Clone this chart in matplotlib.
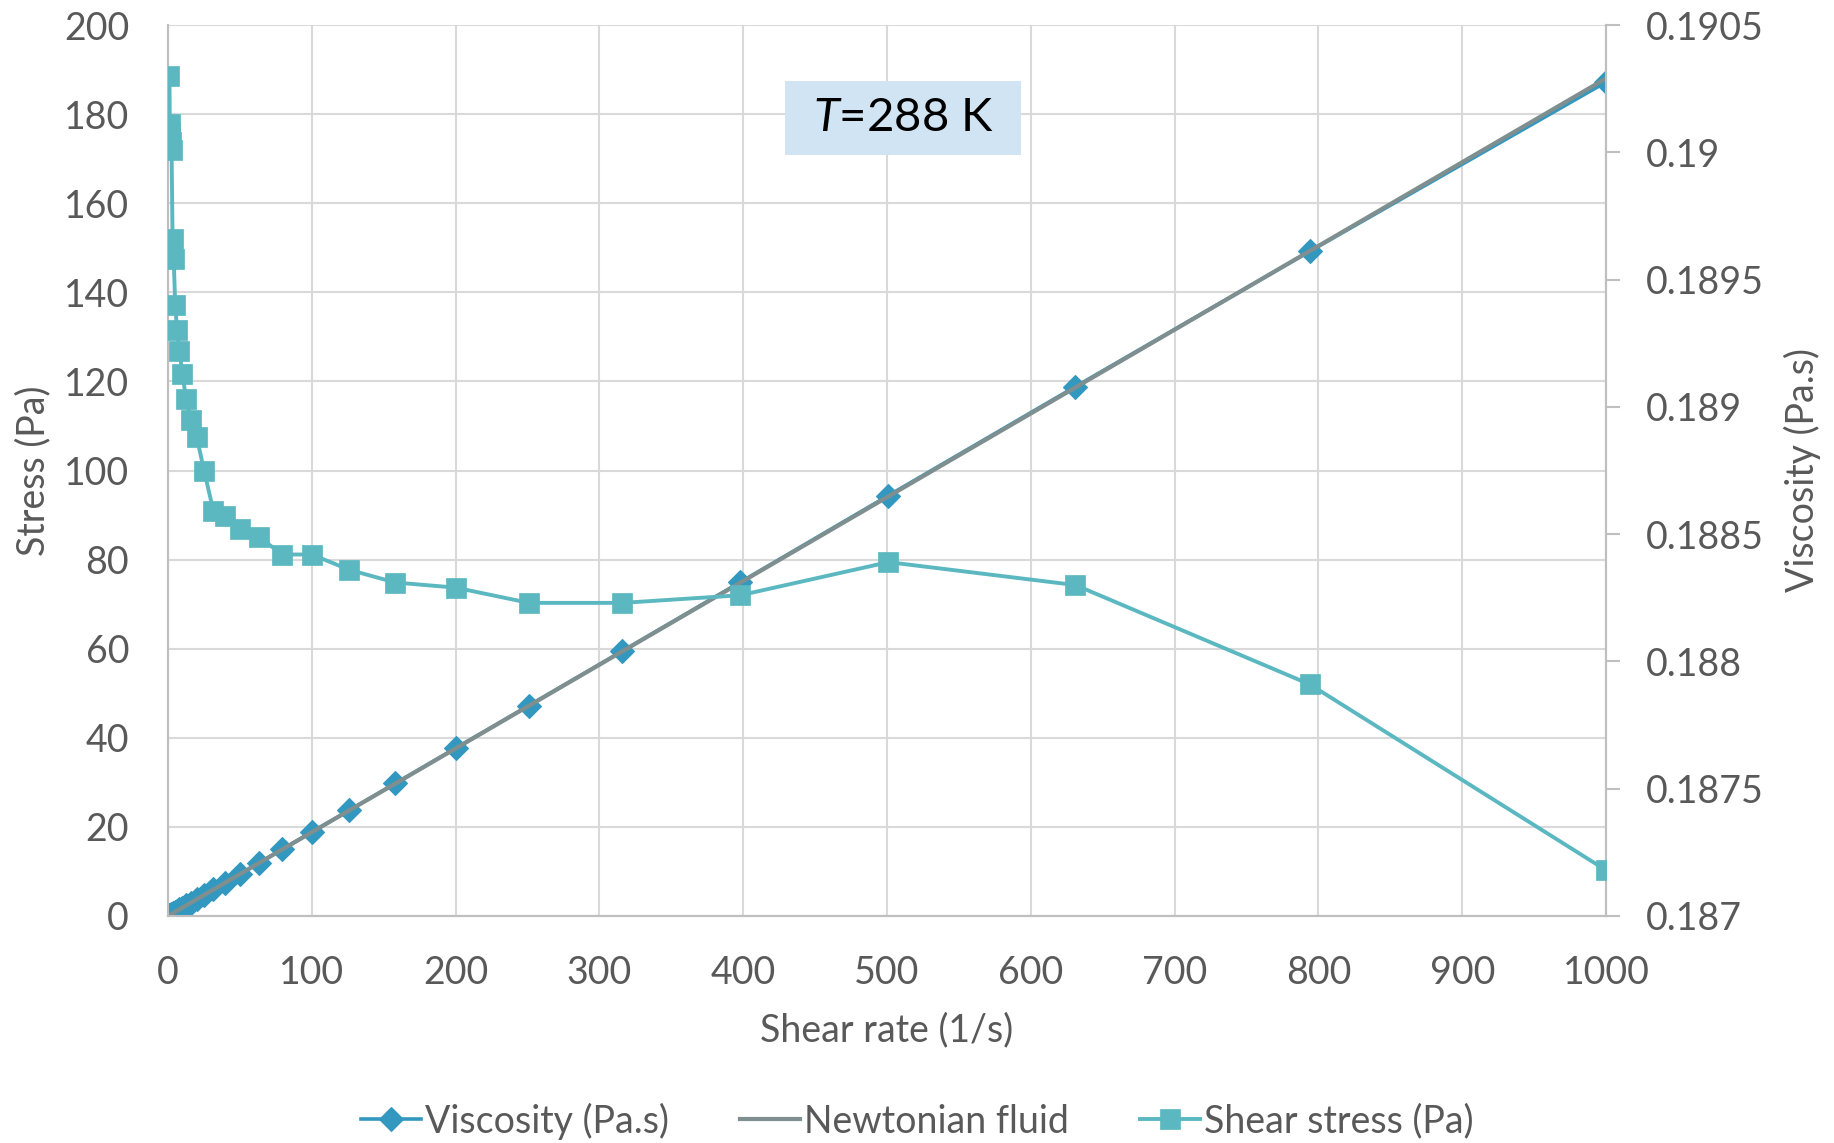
import matplotlib
matplotlib.use("Agg")
import matplotlib.pyplot as plt
from matplotlib.ticker import MultipleLocator, FuncFormatter, FixedLocator
from matplotlib.patches import Rectangle

plt.rcParams['font.family'] = ['Lato', 'DejaVu Sans']
plt.rcParams['mathtext.fontset'] = 'custom'
plt.rcParams['mathtext.it'] = 'Lato:italic'
plt.rcParams['mathtext.rm'] = 'Lato'

# Shear rate (1/s)
shear_rate = [1, 1.26, 1.58, 2, 2.51, 3.16, 3.98, 5.01, 6.31, 7.94, 10, 12.6, 15.8,
              20, 25.1, 31.6, 39.8, 50.1, 63.1, 79.4, 100, 126, 158, 200, 251, 316,
              398, 501, 631, 794, 1000]
# Series labelled "Viscosity (Pa.s)" (diamonds, left axis)
viscosity_series = [0.190, 0.240, 0.300, 0.380, 0.477, 0.599, 0.755, 0.949, 1.194,
                    1.502, 1.891, 2.382, 2.985, 3.778, 4.738, 5.959, 7.505, 9.445,
                    11.894, 14.961, 18.842, 23.733, 29.753, 37.658, 47.246, 59.481,
                    74.927, 94.383, 118.817, 149.201, 187.18]
# Newtonian fluid reference line (left axis)
newtonian_x = [0, 1000]
newtonian_y = [0, 188.0]
# Series labelled "Shear stress (Pa)" (squares, right axis)
shear_stress_series = [0.19030, 0.19011, 0.19008, 0.19004, 0.19001, 0.18966, 0.18958,
                       0.18940, 0.18930, 0.18922, 0.18913, 0.18903, 0.18895, 0.18888,
                       0.18875, 0.18859, 0.18857, 0.18852, 0.18849, 0.18842, 0.18842,
                       0.18836, 0.18831, 0.18829, 0.18823, 0.18823, 0.18826, 0.18839,
                       0.18830, 0.18791, 0.18718]

c_visc = '#3398BF'
c_newt = '#7F8F8F'
c_shear = '#5BB8C1'
c_text = '#595959'
c_grid = '#D9D9D9'
c_spine = '#BFBFBF'
fs = 27

fig = plt.figure(figsize=(18.34, 11.43), dpi=100)
ax = fig.add_axes([168/1834, 1-916/1143, 1438/1834, 891/1143])
ax2 = ax.twinx()

l1, = ax.plot(shear_rate, viscosity_series, color=c_visc, lw=2.6, marker='D',
              ms=12.5, mew=0.8, mec=c_visc, mfc=c_visc, zorder=3, label='Viscosity (Pa.s)')
l2, = ax.plot(newtonian_x, newtonian_y, color=c_newt, lw=3, zorder=4,
              label='Newtonian fluid')
l3, = ax2.plot(shear_rate, shear_stress_series, color=c_shear, lw=2.8, marker='s',
               ms=14.5, mew=0.5, mec=c_shear, mfc=c_shear, zorder=3,
               label='Shear stress (Pa)')

ax.set_xlim(0, 1000)
ax.set_ylim(0, 200)
ax2.set_ylim(0.187, 0.1905)
ax.xaxis.set_major_locator(MultipleLocator(100))
ax.yaxis.set_major_locator(MultipleLocator(20))
ax2.yaxis.set_major_locator(FixedLocator([0.187, 0.1875, 0.188, 0.1885, 0.189,
                                          0.1895, 0.19, 0.1905]))
ax2.yaxis.set_major_formatter(FuncFormatter(lambda v, p: '{:g}'.format(round(v, 4))))

ax.grid(True, color=c_grid, lw=1.5)
ax.set_axisbelow(True)

for a in (ax, ax2):
    for s in a.spines.values():
        s.set_color(c_spine)
        s.set_linewidth(1.5)
    a.spines['top'].set_visible(False)

ax.tick_params(axis='x', length=0, pad=28, labelsize=fs, labelcolor=c_text)
ax.tick_params(axis='y', length=0, pad=28, labelsize=fs, labelcolor=c_text)
ax2.tick_params(axis='y', length=10, width=1.5, color=c_spine, pad=19,
                labelsize=fs, labelcolor=c_text)

ax.set_xlabel('Shear rate (1/s)', fontsize=fs, color=c_text, va='center')
ax.set_ylabel('Stress (Pa)', fontsize=fs, color=c_text, va='center', ha='center')
ax2.set_ylabel('Viscosity (Pa.s)', fontsize=fs, color=c_text, rotation=90,
               va='center', ha='center')
ax.yaxis.set_label_coords(-(168-33)/1438, 0.5)
ax2.yaxis.set_label_coords(1+(1802-1606)/1438, 0.5)
ax.xaxis.set_label_coords(0.5, -(1030-916)/891)

# Annotation box
ax2.add_patch(Rectangle(((785-168)/1438, (916-155)/891), 236/1438, 74/891,
                        transform=ax.transAxes, facecolor='#D0E4F3',
                        edgecolor='none', zorder=5))
ax2.text((903-168)/1438, (916-118)/891, r'$T$=288 K', transform=ax.transAxes,
         ha='center', va='center', fontsize=34, color='black', zorder=6)

fig.legend(handles=[l1, l2, l3], loc='center', bbox_to_anchor=(0.5, 1-1121/1143),
           ncol=3, frameon=False, fontsize=fs, labelcolor=c_text,
           handlelength=1.6, columnspacing=1.9, handletextpad=0.1,
           borderaxespad=0)

fig.savefig('out.png', dpi=100)
